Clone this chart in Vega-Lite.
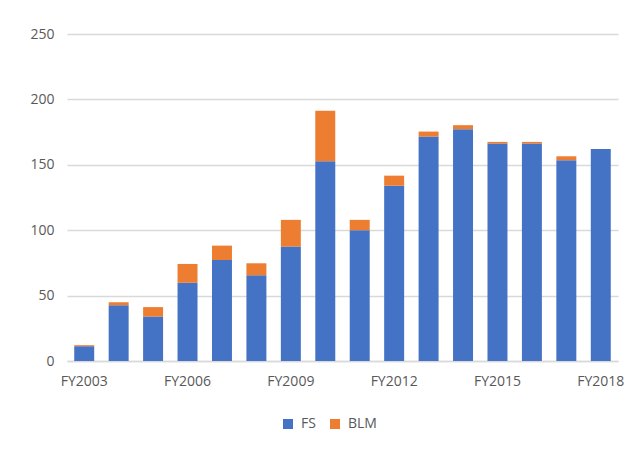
{
  "$schema": "https://vega.github.io/schema/vega-lite/v6.json",
  "autosize": {"type": "none"},
  "width": 551,
  "height": 327,
  "padding": {"left": 67, "top": 34, "right": 25, "bottom": 91},
  "background": "white",
  "config": {
    "view": {"stroke": null},
    "font": "Open Sans"
  },
  "data": {
    "values": [
      {"year": "FY2003", "agency": "FS", "value": 11.3},
      {"year": "FY2003", "agency": "BLM", "value": 0.8},
      {"year": "FY2004", "agency": "FS", "value": 42.7},
      {"year": "FY2004", "agency": "BLM", "value": 2.3},
      {"year": "FY2005", "agency": "FS", "value": 34.0},
      {"year": "FY2005", "agency": "BLM", "value": 7.2},
      {"year": "FY2006", "agency": "FS", "value": 59.8},
      {"year": "FY2006", "agency": "BLM", "value": 14.4},
      {"year": "FY2007", "agency": "FS", "value": 77.2},
      {"year": "FY2007", "agency": "BLM", "value": 11.0},
      {"year": "FY2008", "agency": "FS", "value": 65.5},
      {"year": "FY2008", "agency": "BLM", "value": 9.2},
      {"year": "FY2009", "agency": "FS", "value": 87.5},
      {"year": "FY2009", "agency": "BLM", "value": 20.4},
      {"year": "FY2010", "agency": "FS", "value": 152.7},
      {"year": "FY2010", "agency": "BLM", "value": 38.6},
      {"year": "FY2011", "agency": "FS", "value": 100.0},
      {"year": "FY2011", "agency": "BLM", "value": 7.9},
      {"year": "FY2012", "agency": "FS", "value": 134.0},
      {"year": "FY2012", "agency": "BLM", "value": 7.7},
      {"year": "FY2013", "agency": "FS", "value": 171.6},
      {"year": "FY2013", "agency": "BLM", "value": 3.8},
      {"year": "FY2014", "agency": "FS", "value": 177.2},
      {"year": "FY2014", "agency": "BLM", "value": 3.1},
      {"year": "FY2015", "agency": "FS", "value": 166.2},
      {"year": "FY2015", "agency": "BLM", "value": 1.3},
      {"year": "FY2016", "agency": "FS", "value": 166.2},
      {"year": "FY2016", "agency": "BLM", "value": 1.3},
      {"year": "FY2017", "agency": "FS", "value": 153.5},
      {"year": "FY2017", "agency": "BLM", "value": 3.0},
      {"year": "FY2018", "agency": "FS", "value": 162.1},
      {"year": "FY2018", "agency": "BLM", "value": 0}
    ]
  },
  "mark": {"type": "bar"},
  "encoding": {
    "x": {
      "field": "year",
      "type": "ordinal",
      "title": null,
      "scale": {"paddingInner": 0.42, "paddingOuter": 0.21},
      "axis": {
        "values": ["FY2003", "FY2006", "FY2009", "FY2012", "FY2015", "FY2018"],
        "labelAngle": 0,
        "labelColor": "#595959",
        "labelFontSize": 14,
        "labelPadding": 13,
        "ticks": false,
        "domainColor": "#d9d9d9",
        "domainWidth": 1.5
      }
    },
    "y": {
      "field": "value",
      "type": "quantitative",
      "aggregate": "sum",
      "stack": "zero",
      "title": null,
      "scale": {"domain": [0, 250]},
      "axis": {
        "values": [0, 50, 100, 150, 200, 250],
        "labelColor": "#595959",
        "labelFontSize": 14,
        "labelPadding": 13,
        "ticks": false,
        "domain": false,
        "gridColor": "#d9d9d9",
        "gridWidth": 1.5
      }
    },
    "color": {
      "field": "agency",
      "type": "nominal",
      "sort": ["FS", "BLM"],
      "scale": {"domain": ["FS", "BLM"], "range": ["#4472C4", "#ED7D31"]},
      "legend": {
        "orient": "none",
        "legendX": 214,
        "legendY": 383,
        "direction": "horizontal",
        "title": null,
        "symbolType": "square",
        "symbolSize": 100,
        "symbolStrokeWidth": 0,
        "labelColor": "#595959",
        "labelFontSize": 14,
        "labelOffset": 6,
        "columnPadding": 12
      }
    },
    "order": {"field": "agency", "sort": "descending"}
  }
}
